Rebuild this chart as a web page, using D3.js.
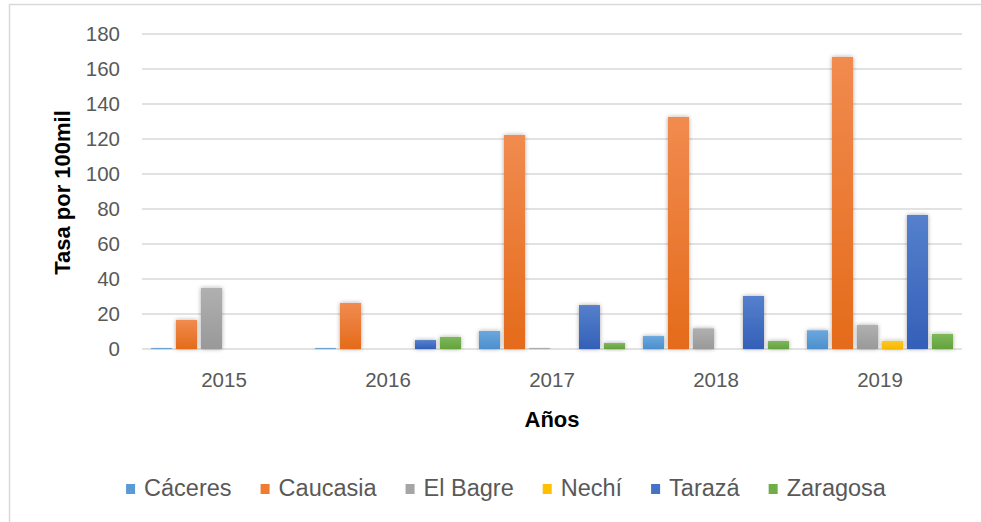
<!DOCTYPE html>
<html>
<head>
<meta charset="utf-8">
<script src="https://cdn.jsdelivr.net/npm/d3@7"></script>
<style>
  html, body { margin: 0; padding: 0; background: #fff; }
  svg { display: block; }
</style>
</head>
<body>
<svg id="chart" width="981" height="522"></svg>
<script>
const years = ["2015", "2016", "2017", "2018", "2019"];
const seriesNames = ["Cáceres", "Caucasia", "El Bagre", "Nechí", "Tarazá", "Zaragosa"];
const caceres  = [0.5, 0.5, 10.3, 7.4, 10.7];
const caucasia = [16.6, 26.3, 122.3, 132.6, 166.9];
const elBagre  = [34.9, 0, 0.5, 11.8, 13.7];
const nechi    = [0, 0, 0, 0, 4.6];
const taraza   = [0, 5.1, 25.1, 30.3, 76.6];
const zaragosa = [0, 6.9, 3.4, 4.6, 8.6];
const yTicks = [0, 20, 40, 60, 80, 100, 120, 140, 160, 180];
const seriesValues = [caceres, caucasia, elBagre, nechi, taraza, zaragosa];
const colors = ["#5B9BD5", "#ED7D31", "#A5A5A5", "#FFC000", "#4472C4", "#70AD47"];
const colorsTop = ["#6aa7dd", "#f18b4f", "#b0b0b0", "#ffc820", "#5580cc", "#7db85a"];
const colorsBot = ["#4d8fcd", "#e46b1a", "#999999", "#f5b800", "#3460b8", "#64a23d"];

const svg = d3.select("#chart");
const W = 981, H = 522;
const plot = { left: 142, right: 962, top: 34, bottom: 349 };

// border
svg.append("rect").attr("x", 9.5).attr("y", 4.5).attr("width", 1000).attr("height", 540)
  .attr("fill", "#fff").attr("stroke", "#d9d9d9").attr("stroke-width", 1.5);

const defs = svg.append("defs");
const f = defs.append("filter").attr("id", "shadow").attr("x", "-50%").attr("y", "-50%").attr("width", "200%").attr("height", "200%");
f.append("feDropShadow").attr("dx", 0).attr("dy", 0).attr("stdDeviation", 2.2)
  .attr("flood-color", "#000").attr("flood-opacity", 0.35);
seriesNames.forEach((s, i) => {
  const g = defs.append("linearGradient").attr("id", "grad" + i)
    .attr("x1", 0).attr("y1", 0).attr("x2", 0).attr("y2", 1);
  g.append("stop").attr("offset", "0%").attr("stop-color", colorsTop[i]);
  g.append("stop").attr("offset", "100%").attr("stop-color", colorsBot[i]);
});

const y = d3.scaleLinear().domain([0, 180]).range([plot.bottom, plot.top]);
const x0 = d3.scaleBand().domain(years).range([plot.left, plot.right]).paddingInner(0).paddingOuter(0);
const x1 = d3.scaleBand().domain(seriesNames).range([0, x0.bandwidth()]).paddingInner(0.16).paddingOuter(0.36);

// gridlines
svg.append("g").selectAll("line").data(yTicks).join("line")
  .attr("x1", plot.left).attr("x2", plot.right)
  .attr("y1", d => y(d)).attr("y2", d => y(d))
  .attr("stroke", "#d9d9d9").attr("stroke-width", 1.6);

// y tick labels
svg.append("g").selectAll("text").data(yTicks).join("text")
  .attr("x", 120).attr("y", d => y(d)).attr("dy", "0.35em")
  .attr("text-anchor", "end")
  .attr("font-family", "Liberation Sans, Arial, sans-serif").attr("font-size", 20.5)
  .attr("fill", "#595959").text(d => d);

// bars
const groups = svg.append("g").selectAll("g").data(years).join("g")
  .attr("transform", d => `translate(${x0(d)},0)`);
groups.selectAll("rect").data((yr, yi) => seriesNames.map((s, si) => ({ s, si, v: seriesValues[si][yi] })))
  .join("rect")
  .filter(d => d.v > 0)
  .attr("x", d => x1(d.s)).attr("width", x1.bandwidth())
  .attr("y", d => y(d.v)).attr("height", d => y(0) - y(d.v))
  .attr("fill", d => `url(#grad${d.si})`)
  .attr("filter", "url(#shadow)");

// x labels
svg.append("g").selectAll("text").data(years).join("text")
  .attr("x", d => x0(d) + x0.bandwidth() / 2).attr("y", 387)
  .attr("text-anchor", "middle")
  .attr("font-family", "Liberation Sans, Arial, sans-serif").attr("font-size", 20.5)
  .attr("fill", "#595959").text(d => d);

// axis titles
svg.append("text").attr("x", (plot.left + plot.right) / 2).attr("y", 427)
  .attr("text-anchor", "middle").attr("font-family", "Liberation Sans, Arial, sans-serif")
  .attr("font-weight", "bold").attr("font-size", 22).attr("fill", "#000").text("Años");
svg.append("text").attr("transform", `translate(70,${(plot.top + plot.bottom) / 2 + 1}) rotate(-90)`)
  .attr("text-anchor", "middle").attr("font-family", "Liberation Sans, Arial, sans-serif")
  .attr("font-weight", "bold").attr("font-size", 22).attr("fill", "#000").text("Tasa por 100mil");

// legend
const leg = svg.append("g");
const items = leg.selectAll("g").data(seriesNames).join("g");
items.append("rect").attr("width", 9).attr("height", 10).attr("y", 484)
  .attr("fill", (d, i) => colors[i]);
items.append("text").attr("x", 18).attr("y", 496)
  .attr("font-family", "Liberation Sans, Arial, sans-serif").attr("font-size", 23.5)
  .attr("fill", "#595959").text(d => d);
let cx = 0;
const positions = [];
items.each(function () {
  const w = d3.select(this).select("text").node().getComputedTextLength();
  positions.push(cx);
  cx += 18 + w + 29;
});
const total = cx - 29;
const startX = 506 - total / 2;
items.attr("transform", (d, i) => `translate(${startX + positions[i]},0)`);
</script>
</body>
</html>
